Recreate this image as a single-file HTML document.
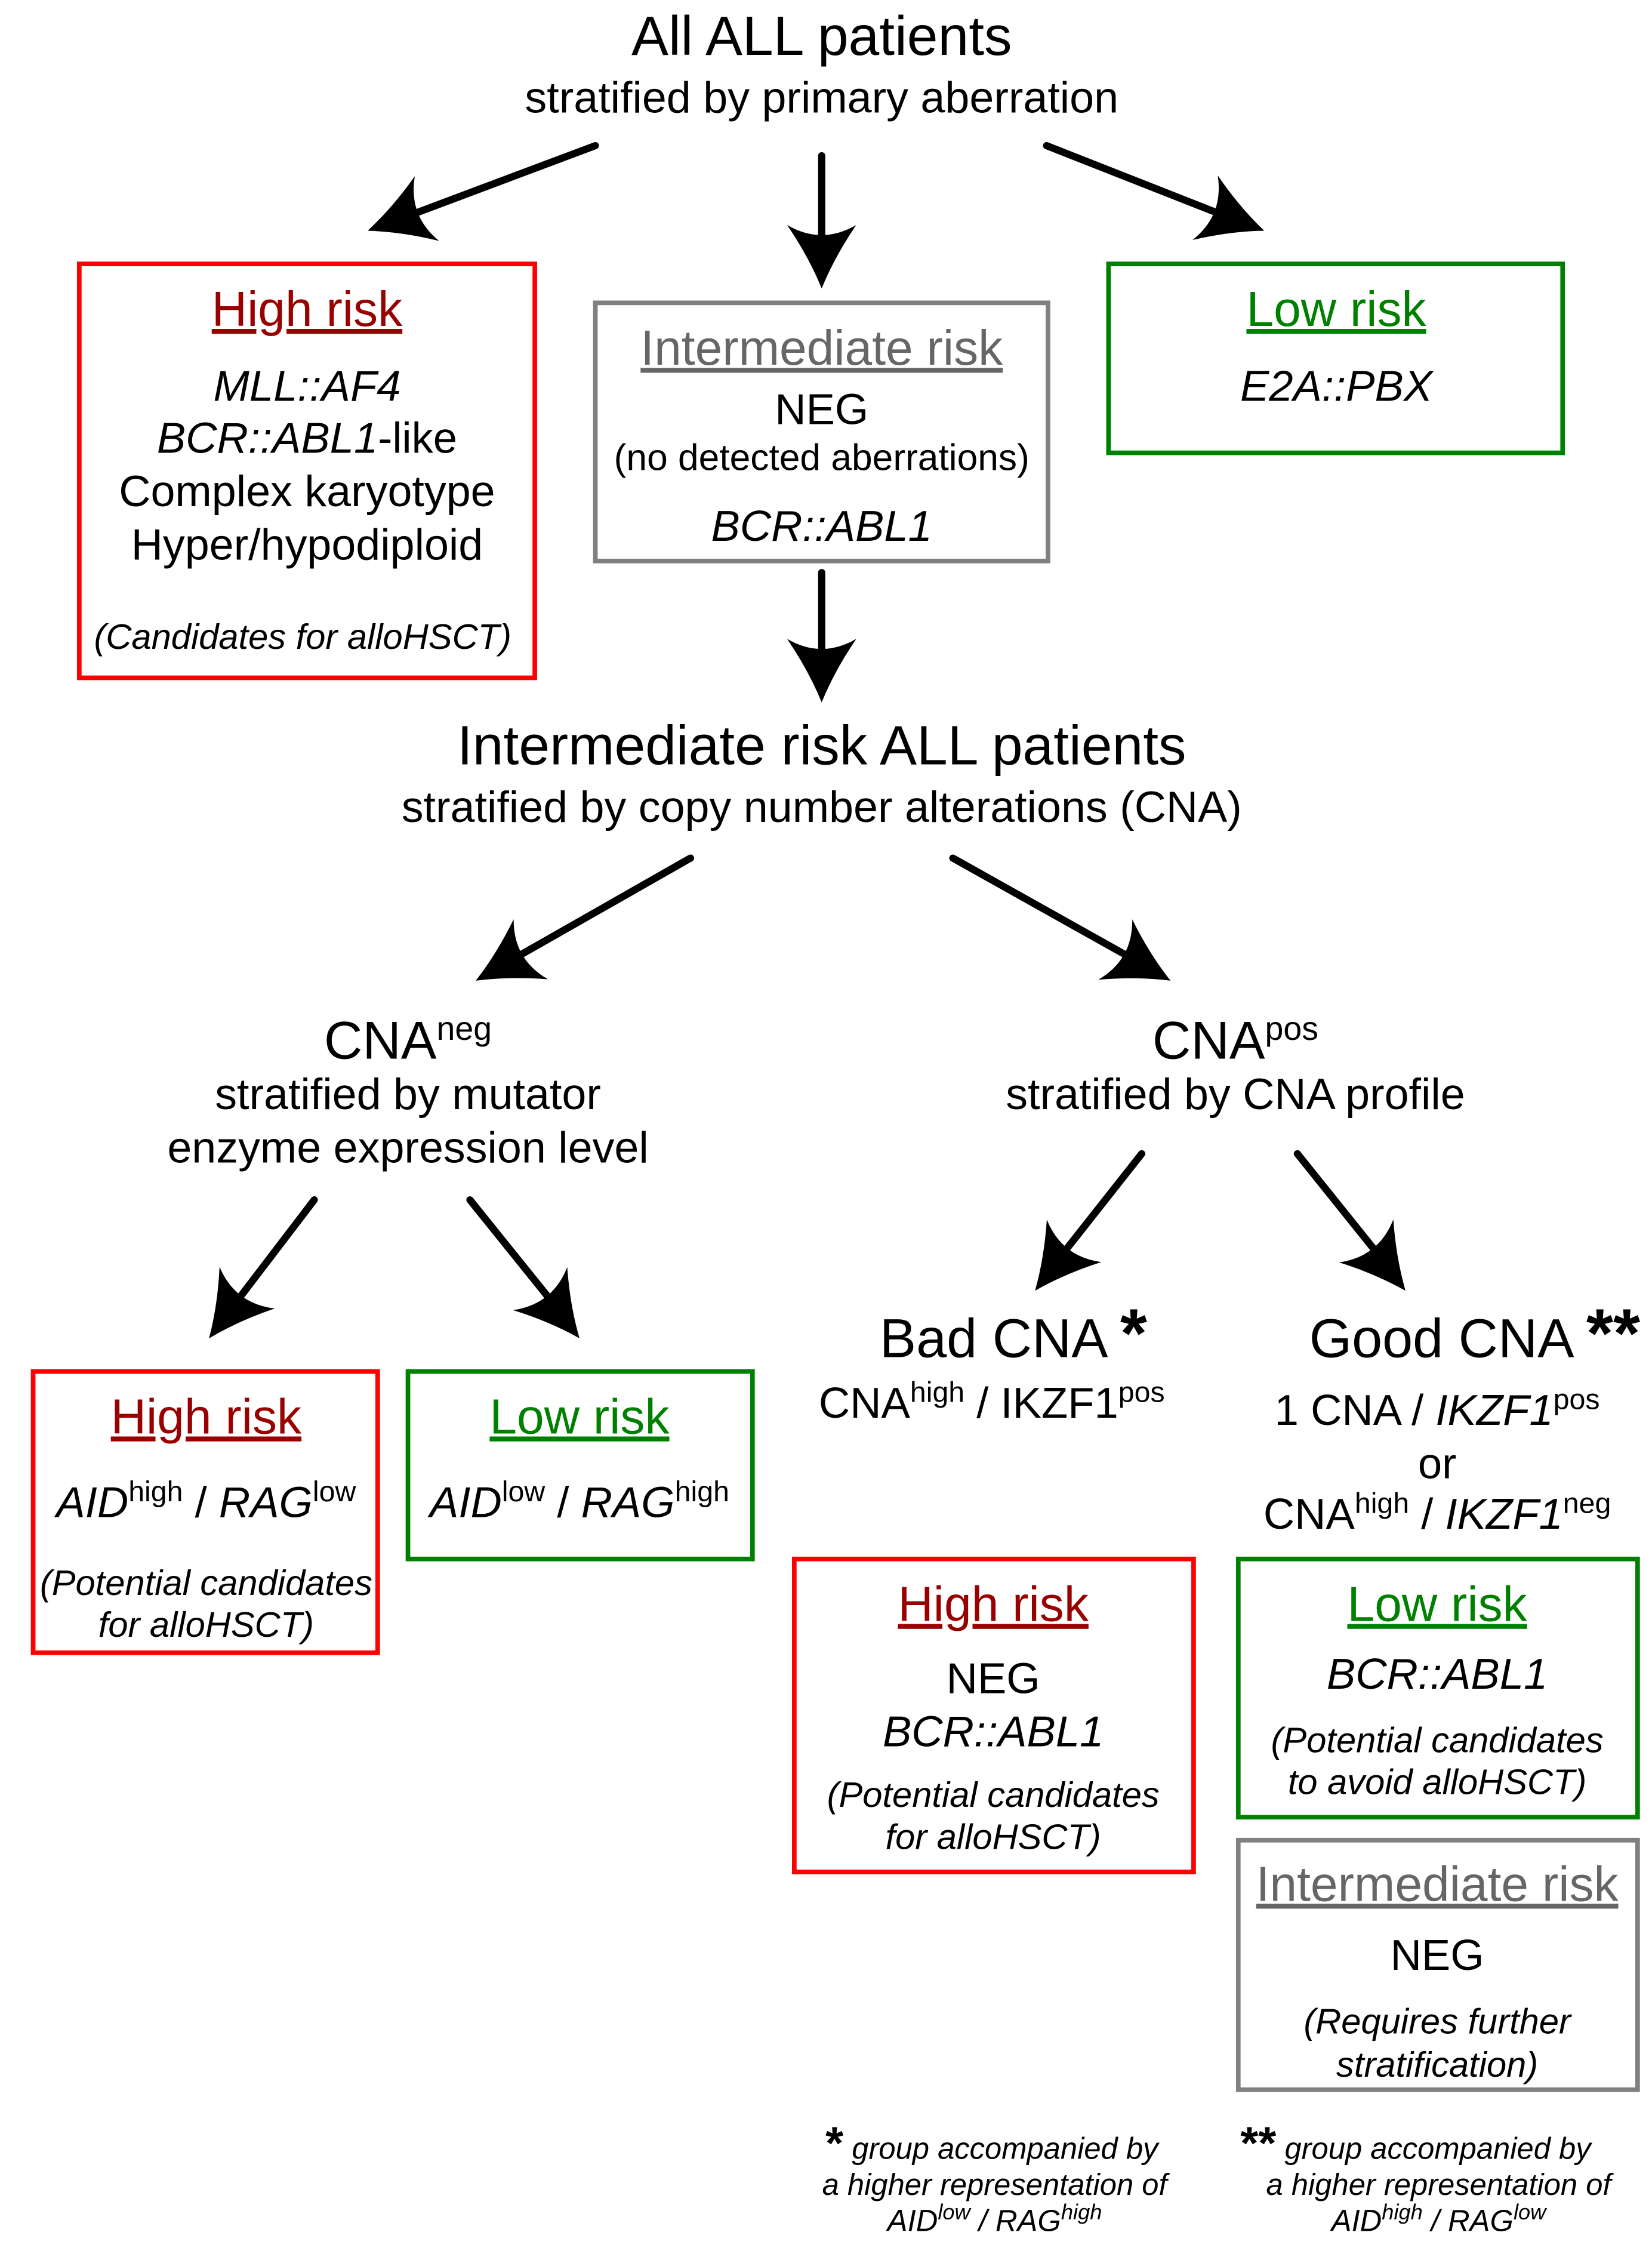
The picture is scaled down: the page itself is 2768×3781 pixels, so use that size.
<!DOCTYPE html>
<html><head><meta charset="utf-8"><style>
html,body{margin:0;padding:0;background:#fff;}
svg{display:block;}
text{font-family:"Liberation Sans",Arial,sans-serif;fill:#000;}
.i{font-style:italic;}
</style></head><body>
<svg width="2768" height="3781" viewBox="0 0 1146 1565" preserveAspectRatio="none" xmlns="http://www.w3.org/2000/svg">
<defs>
<path id="ah" d="M0,0 Q-22,-9 -44,-24 Q-30,0 -44,24 Q-22,9 0,0 Z" fill="#000"/>
</defs>
<g stroke="#000" stroke-width="5" stroke-linecap="round">
<line x1="413" y1="101" x2="285" y2="149"/>
<line x1="570" y1="108" x2="570" y2="170"/>
<line x1="726" y1="101" x2="848" y2="149"/>
<line x1="570" y1="397" x2="570" y2="457"/>
<line x1="479" y1="595" x2="356" y2="665"/>
<line x1="661" y1="595" x2="786" y2="665"/>
<line x1="218" y1="832" x2="163" y2="904"/>
<line x1="326" y1="832" x2="384" y2="904"/>
<line x1="792" y1="800" x2="736" y2="871"/>
<line x1="900" y1="800" x2="957" y2="871"/>
</g>
<use href="#ah" transform="translate(255,160) rotate(159.5)"/>
<use href="#ah" transform="translate(570,200) rotate(90)"/>
<use href="#ah" transform="translate(877,160) rotate(21.3)"/>
<use href="#ah" transform="translate(570,487) rotate(90)"/>
<use href="#ah" transform="translate(330,680) rotate(150.3)"/>
<use href="#ah" transform="translate(812,680) rotate(29.4)"/>
<use href="#ah" transform="translate(145,928) rotate(127)"/>
<use href="#ah" transform="translate(402,928) rotate(51.6)"/>
<use href="#ah" transform="translate(718,895) rotate(128)"/>
<use href="#ah" transform="translate(975,895) rotate(51.7)"/>

<g fill="none" stroke-width="3.2">
<rect x="55" y="183" width="316" height="287" stroke="#ff0000"/>
<rect x="413" y="210" width="314" height="179" stroke="#808080"/>
<rect x="769" y="183" width="315" height="131" stroke="#008000"/>
<rect x="23" y="951" width="239" height="195" stroke="#ff0000"/>
<rect x="283" y="951" width="239" height="130" stroke="#008000"/>
<rect x="551" y="1081" width="277" height="217" stroke="#ff0000"/>
<rect x="859" y="1081" width="277" height="179" stroke="#008000"/>
<rect x="859" y="1276" width="277" height="173" stroke="#808080"/>
</g>

<g text-anchor="middle">
<text x="570" y="38" font-size="38.5">All ALL patients</text>
<text x="570" y="78" font-size="30.5">stratified by primary aberration</text>

<text x="213" y="226" font-size="34" style="fill:#990000" text-decoration="underline">High risk</text>
<text x="213" y="278" font-size="30" class="i">MLL::AF4</text>
<text x="213" y="314" font-size="30"><tspan class="i">BCR::ABL1</tspan>-like</text>
<text x="213" y="351" font-size="30.5">Complex karyotype</text>
<text x="213" y="388" font-size="30.5">Hyper/hypodiploid</text>
<text x="210" y="450" font-size="24.7" class="i">(Candidates for alloHSCT)</text>

<text x="570" y="253" font-size="34" style="fill:#666" text-decoration="underline">Intermediate risk</text>
<text x="570" y="294" font-size="30">NEG</text>
<text x="570" y="326" font-size="25.8">(no detected aberrations)</text>
<text x="570" y="375" font-size="30" class="i">BCR::ABL1</text>

<text x="927" y="226" font-size="34" style="fill:#008000" text-decoration="underline">Low risk</text>
<text x="927" y="278" font-size="30" class="i">E2A::PBX</text>

<text x="570" y="530" font-size="38.5">Intermediate risk ALL patients</text>
<text x="570" y="570" font-size="30.5">stratified by copy number alterations (CNA)</text>

<text x="283" y="734" font-size="37">CNA<tspan font-size="23" dy="-13">neg</tspan></text>
<text x="283" y="769" font-size="30.5">stratified by mutator</text>
<text x="283" y="806" font-size="30.5">enzyme expression level</text>

<text x="857" y="734" font-size="37">CNA<tspan font-size="23" dy="-13">pos</tspan></text>
<text x="857" y="769" font-size="30.5">stratified by CNA profile</text>

<text x="143" y="994" font-size="34" style="fill:#990000" text-decoration="underline">High risk</text>
<text x="143" y="1052" font-size="30" class="i">AID<tspan font-size="20" dy="-11" font-style="normal">high</tspan><tspan dy="11" font-style="normal"> / </tspan>RAG<tspan font-size="20" dy="-11" font-style="normal">low</tspan></text>
<text x="143" y="1106" font-size="24.7" class="i">(Potential candidates</text>
<text x="143" y="1135" font-size="24.7" class="i">for alloHSCT)</text>

<text x="402" y="994" font-size="34" style="fill:#008000" text-decoration="underline">Low risk</text>
<text x="402" y="1052" font-size="30" class="i">AID<tspan font-size="20" dy="-11" font-style="normal">low</tspan><tspan dy="11" font-style="normal"> / </tspan>RAG<tspan font-size="20" dy="-11" font-style="normal">high</tspan></text>

<text x="703" y="941" font-size="38">Bad CNA <tspan font-size="48" font-weight="bold">*</tspan></text>
<text x="688" y="983" font-size="30">CNA<tspan font-size="20" dy="-11">high</tspan><tspan dy="11"> / IKZF1</tspan><tspan font-size="20" dy="-11">pos</tspan></text>

<text x="1023" y="941" font-size="38">Good CNA <tspan font-size="48" font-weight="bold">**</tspan></text>
<text x="997" y="988" font-size="30">1 CNA / <tspan class="i">IKZF1</tspan><tspan font-size="20" dy="-11">pos</tspan></text>
<text x="997" y="1025" font-size="30">or</text>
<text x="997" y="1060" font-size="30">CNA<tspan font-size="20" dy="-11">high</tspan><tspan dy="11"> / </tspan><tspan class="i">IKZF1</tspan><tspan font-size="20" dy="-11">neg</tspan></text>

<text x="689" y="1124" font-size="34" style="fill:#990000" text-decoration="underline">High risk</text>
<text x="689" y="1174" font-size="30">NEG</text>
<text x="689" y="1211" font-size="30" class="i">BCR::ABL1</text>
<text x="689" y="1253" font-size="24.7" class="i">(Potential candidates</text>
<text x="689" y="1282" font-size="24.7" class="i">for alloHSCT)</text>

<text x="997" y="1124" font-size="34" style="fill:#008000" text-decoration="underline">Low risk</text>
<text x="997" y="1171" font-size="30" class="i">BCR::ABL1</text>
<text x="997" y="1215" font-size="24.7" class="i">(Potential candidates</text>
<text x="997" y="1244" font-size="24.7" class="i">to avoid alloHSCT)</text>

<text x="997" y="1318" font-size="34" style="fill:#666" text-decoration="underline">Intermediate risk</text>
<text x="997" y="1366" font-size="30">NEG</text>
<text x="997" y="1410" font-size="24.7" class="i">(Requires further</text>
<text x="997" y="1440" font-size="24.7" class="i">stratification)</text>

<text x="688" y="1497" font-size="21" class="i"><tspan font-size="32" font-weight="bold" font-style="normal">*</tspan> group accompanied by</text>
<text x="690" y="1522" font-size="21" class="i">a higher representation of</text>
<text x="690" y="1547" font-size="21" class="i">AID<tspan font-size="15" dy="-8">low</tspan><tspan dy="8"> / RAG</tspan><tspan font-size="15" dy="-8">high</tspan></text>

<text x="982" y="1497" font-size="21" class="i"><tspan font-size="32" font-weight="bold" font-style="normal">**</tspan> group accompanied by</text>
<text x="998" y="1522" font-size="21" class="i">a higher representation of</text>
<text x="998" y="1547" font-size="21" class="i">AID<tspan font-size="15" dy="-8">high</tspan><tspan dy="8"> / RAG</tspan><tspan font-size="15" dy="-8">low</tspan></text>
</g>
</svg>
</body></html>
